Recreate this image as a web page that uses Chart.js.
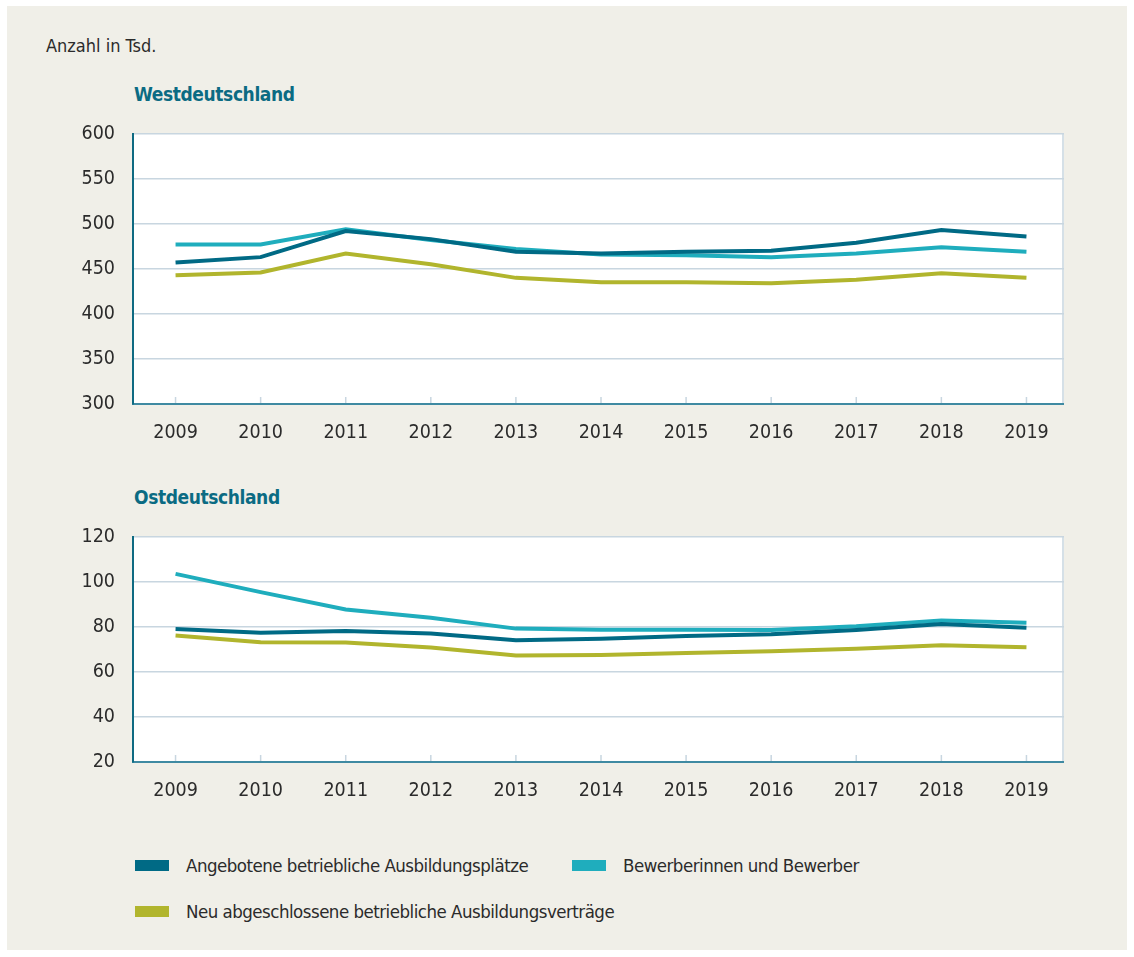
<!DOCTYPE html>
<html>
<head>
<meta charset="utf-8">
<script src="https://cdn.jsdelivr.net/npm/chart.js@4"></script>
<style>
  body { margin: 0; background: #fff; width: 1134px; height: 957px; overflow: hidden; position: relative;
    font-family: 'DejaVu Sans', sans-serif; font-stretch: condensed; color: #2b2b2b; }
  #panel { position: absolute; left: 7px; top: 6px; width: 1120px; height: 944px; background: #f0efe8; }
  .unit { position: absolute; left: 46px; top: 35px; font-size: 18px; }
  .ttl { position: absolute; left: 134px; font-size: 19px; letter-spacing: -0.4px; font-weight: bold; color: #0b6b83; }
  canvas { position: absolute; left: 0; }
  .leg { position: absolute; font-size: 18.5px; letter-spacing: -0.5px; display: flex; align-items: center; }
  .sw { width: 34px; height: 11px; margin-right: 17px; }
</style>
</head>
<body>
<div id="panel"></div>
<div class="unit">Anzahl in Tsd.</div>
<div class="ttl" style="top:83px">Westdeutschland</div>
<div class="ttl" style="top:486px">Ostdeutschland</div>
<canvas id="west" width="1134" height="356" style="top:104px"></canvas>
<canvas id="ost" width="1134" height="313" style="top:507px"></canvas>
<div class="leg" style="left:135px; top:855px"><div class="sw" style="background:#006a85"></div>Angebotene betriebliche Ausbildungsplätze</div>
<div class="leg" style="left:572px; top:855px"><div class="sw" style="background:#1fadbd"></div>Bewerberinnen und Bewerber</div>
<div class="leg" style="left:135px; top:901px"><div class="sw" style="background:#b1b52d"></div>Neu abgeschlossene betriebliche Ausbildungsverträge</div>
<script>
const years = ['2009', '2010', '2011', '2012', '2013', '2014', '2015', '2016', '2017', '2018', '2019'];

// Westdeutschland, Anzahl in Tsd.
const westAngebot = [457, 463, 492, 483, 469, 467, 469, 470, 479, 493, 486];
const westBewerber = [477, 477, 494, 482, 472, 466, 465, 463, 467, 474, 469];
const westVertraege = [443, 446, 467, 455, 440, 435, 435, 434, 438, 445, 440];

// Ostdeutschland, Anzahl in Tsd.
const ostAngebot = [79, 77.4, 78.1, 77, 74, 74.7, 75.9, 76.7, 78.6, 81.3, 79.6];
const ostBewerber = [103.5, 95.4, 87.7, 84, 79.2, 78.7, 78.7, 78.6, 80.2, 82.8, 81.8];
const ostVertraege = [76.2, 73.2, 73, 70.8, 67.3, 67.5, 68.4, 69.2, 70.3, 71.8, 70.9];

const westTicks = { min: 300, max: 600, step: 50 };
const ostTicks = { min: 20, max: 120, step: 20 };

const FONT = "'DejaVu Sans', sans-serif";
const COLORS = ['#006a85', '#1fadbd', '#b1b52d'];
const GRID = '#c8d6e0';
const BG = '#f0efe8';
const INSET = 6; // visible frame ends a bit before the chart area's right edge

// white plot area, right edge and small inner x ticks
const plotFrame = {
  id: 'plotFrame',
  beforeInit(chart) {
    chart.ctx.fontStretch = 'condensed';
  },
  beforeDraw(chart) {
    const { ctx, chartArea: a } = chart;
    ctx.fontStretch = 'condensed';
    ctx.save();
    ctx.fillStyle = '#fff';
    ctx.fillRect(a.left, a.top, a.right - a.left, a.bottom - a.top);
    ctx.restore();
  },
  afterDraw(chart) {
    const { ctx, chartArea: a, scales } = chart;
    const r = a.right - INSET;
    ctx.save();
    ctx.fillStyle = BG;
    ctx.fillRect(r + 1, a.top - 2, INSET + 2, a.bottom - a.top + 5);
    ctx.strokeStyle = '#3f8aa2';
    ctx.lineWidth = 2;
    ctx.beginPath();
    ctx.moveTo(r - 2, a.bottom);
    ctx.lineTo(r + 1, a.bottom);
    ctx.stroke();
    ctx.strokeStyle = GRID;
    ctx.lineWidth = 1.5;
    ctx.beginPath();
    ctx.moveTo(r, a.top);
    ctx.lineTo(r, a.bottom - 1);
    scales.x.ticks.forEach((t, i) => {
      const x = scales.x.getPixelForTick(i);
      ctx.moveTo(x, a.bottom - 1);
      ctx.lineTo(x, a.bottom - 7);
    });
    ctx.stroke();
    ctx.restore();
  }
};

function makeChart(id, series, range, xHeight) {
  return new Chart(document.getElementById(id), {
    type: 'line',
    data: {
      labels: years,
      datasets: series.map((d, i) => ({
        data: d,
        borderColor: COLORS[i],
        borderWidth: 4,
        pointRadius: 0,
        tension: 0
      }))
    },
    options: {
      responsive: false,
      animation: false,
      layout: { padding: { top: 17, right: 65, left: 0, bottom: 0 } },
      plugins: { legend: { display: false }, tooltip: { enabled: false } },
      scales: {
        x: {
          offset: true,
          grid: { display: true, drawOnChartArea: false, drawTicks: false, offset: false },
          border: { display: true, color: '#3f8aa2', width: 2 },
          ticks: { color: '#2b2b2b', padding: 17, font: { family: FONT, size: 19.5 } },
          afterFit(s) { s.height = xHeight; }
        },
        y: {
          min: range.min,
          max: range.max,
          grid: { color: GRID, lineWidth: 1.5, drawTicks: false },
          border: { display: true, color: '#0e6a82', width: 2 },
          ticks: { stepSize: range.step, color: '#2b2b2b', padding: 18, font: { family: FONT, size: 19.5 } },
          afterFit(s) { s.width = 133; }
        }
      }
    },
    plugins: [plotFrame]
  });
}

makeChart('west', [westAngebot, westBewerber, westVertraege], westTicks, 56);
makeChart('ost', [ostAngebot, ostBewerber, ostVertraege], ostTicks, 58);
</script>
</body>
</html>
